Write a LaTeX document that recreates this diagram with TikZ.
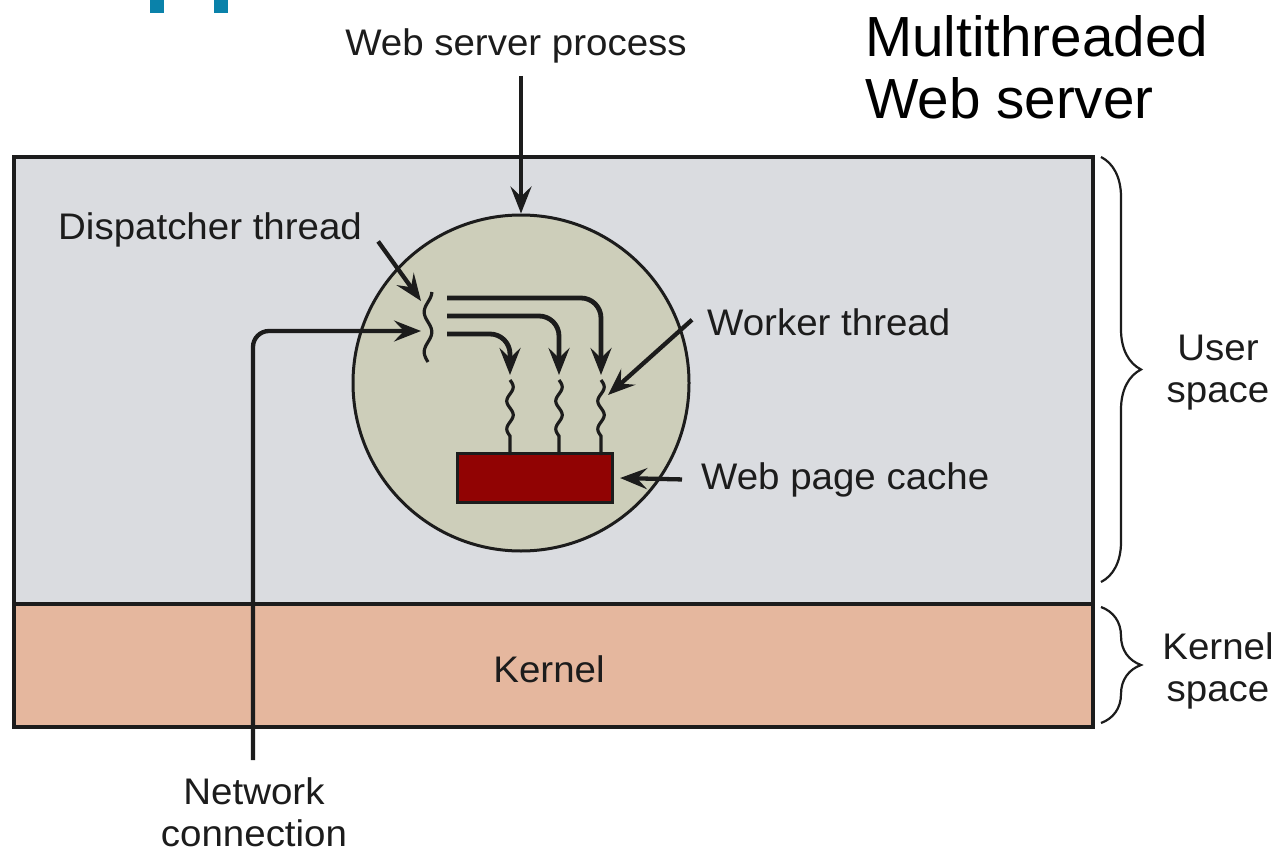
\documentclass[tikz,border=0pt]{standalone}
\usepackage{fontspec}
\setmainfont{Liberation Sans}
\newfontfamily\lblfont{Liberation Sans}[FakeStretch=1.04]
\usetikzlibrary{arrows.meta,decorations.pathreplacing}

\definecolor{userbg}{RGB}{218,220,224}
\definecolor{kernbg}{RGB}{229,183,158}
\definecolor{procbg}{RGB}{205,206,186}
\definecolor{cachered}{RGB}{145,3,3}
\definecolor{ink}{RGB}{28,28,28}
\definecolor{slideblue}{RGB}{10,130,170}

\begin{document}
\begin{tikzpicture}[x=1pt,y=-1pt,
  txt/.style={font=\lblfont\fontsize{37}{42}\selectfont, text=ink, inner sep=0pt, align=center},
  big/.style={font=\fontsize{56.6}{62}\selectfont, text=black, inner sep=0pt, align=left},
  ptr/.style={draw=ink, line width=4.3pt, -{Stealth[length=27pt,width=21pt,inset=10pt]}},
  flow/.style={ptr, line width=4.8pt, rounded corners=20pt},
  wiggle/.style={draw=ink, line width=3.2pt},
  brc/.style={draw=ink, line width=2.2pt, decorate, decoration={brace, amplitude=40pt}},
  region/.style={draw=ink, line width=3.3pt, anchor=north west, inner sep=0pt,
                 outer sep=0pt, minimum width=1079pt},
]
\useasboundingbox (0,0) rectangle (1276,853);
\fill[white] (0,0) rectangle (1276,853);

% two glyph stems cut by the top edge
\fill[slideblue] (150,0) rectangle (164,13);
\fill[slideblue] (214,0) rectangle (228,13);

% user and kernel regions
\node[region, fill=userbg, minimum height=447pt] (user) at (14,157) {};
\node[region, fill=kernbg, minimum height=123pt] (kern) at (14,604) {};
\node[txt, anchor=north] (kernl) at (549,655) {Kernel};

% web server process with its page cache
\node[circle, draw=ink, line width=3pt, fill=procbg, minimum size=336pt, inner sep=0pt] (proc) at (521,383) {};
\node[draw=ink, line width=3.2pt, fill=cachered, minimum width=155pt, minimum height=49pt, inner sep=0pt] (cache) at (535,478) {};

% dispatcher thread
\coordinate (disp) at (428,292);
\draw[wiggle] plot[domain=0:70, samples=60, smooth] ({428+3.8*cos(\x*9)}, {292+\x});

% worker threads
\foreach \wx [count=\i] in {510,559,601} {
  \coordinate (w\i) at (\wx,380);
  \draw[wiggle] plot[domain=0:56, samples=50, smooth] ({\wx+3.2*sin(\x*12.857)}, {380+\x}) -- (\wx,455);
}

% hand-off from dispatcher to workers
\draw[flow] ([shift={(19,6)}]disp) -| ([shift={(0,-5)}]w3);
\draw[flow] ([shift={(19,24)}]disp) -| ([shift={(0,-5)}]w2);
\draw[flow] ([shift={(19,42)}]disp) -| ([shift={(0,-5)}]w1);

% incoming network connection
\coordinate (netend) at (253,760);
\draw[ptr, rounded corners=16pt] (netend) |- ([shift={(-7,39)}]disp);
\node[txt, anchor=north] (netl) at (254,777) {Network\\connection};

% labels and pointers
\node[txt, anchor=north] (wsp) at (516,28) {Web server process};
\draw[ptr] (proc.north |- wsp.south) ++(0,13) -- (proc.north);

\node[txt, anchor=north west] (displ) at (58,212) {Dispatcher thread};
\draw[ptr] (displ.east) ++(16,12) -- ([shift={(-7,9)}]disp);

\node[txt, anchor=north west] (workl) at (707,308) {Worker thread};
\draw[ptr] (workl.west) ++(-15,-2) -- ([shift={(7,15)}]w3);

\node[txt, anchor=north west] (cachel) at (701,462) {Web page cache};
\draw[ptr] (cachel.west) ++(-19,0) -- ([xshift=6pt]cache.east);

% title
\node[big, anchor=north west] (title) at (865,15) {Multithreaded\\Web server};

% address-space braces
\draw[brc] ([xshift=8pt]user.north east) -- ([shift={(8,-22)}]user.south east);
\draw[brc] ([shift={(8,3)}]kern.north east) -- ([shift={(8,-4)}]kern.south east);
\node[txt, anchor=north] (usl) at (1218,335) {User\\space};
\node[txt, anchor=north] (ksl) at (1218,632) {Kernel\\space};
\end{tikzpicture}
\end{document}
